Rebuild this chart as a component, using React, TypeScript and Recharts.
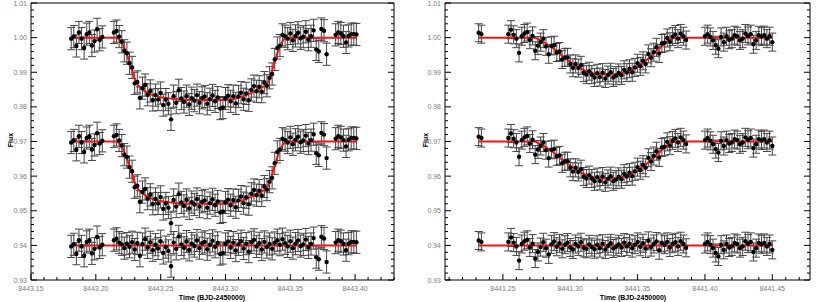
import React from 'react';
import { ComposedChart, Scatter, Line, XAxis, YAxis, ErrorBar } from 'recharts';

// Night 8443: observation times, transit model and residuals (ppt)
const timeA = [
  8443.181, 8443.183, 8443.185, 8443.187, 8443.189, 8443.191, 8443.193, 8443.195, 8443.197, 8443.199,
  8443.201, 8443.203, 8443.205,
  8443.214, 8443.216, 8443.218, 8443.220, 8443.222, 8443.224, 8443.226, 8443.228, 8443.230, 8443.232,
  8443.234, 8443.236, 8443.238, 8443.240, 8443.242, 8443.244, 8443.246, 8443.248, 8443.250, 8443.252,
  8443.254, 8443.256, 8443.258, 8443.260, 8443.262, 8443.264, 8443.266, 8443.268, 8443.270, 8443.272,
  8443.274, 8443.276, 8443.278, 8443.280, 8443.282, 8443.284, 8443.286, 8443.288, 8443.290, 8443.292,
  8443.294, 8443.296, 8443.298, 8443.300, 8443.302, 8443.304, 8443.306, 8443.308, 8443.310, 8443.312,
  8443.314, 8443.316, 8443.318, 8443.320, 8443.322, 8443.324, 8443.326, 8443.328, 8443.330, 8443.332,
  8443.334, 8443.336, 8443.338, 8443.340, 8443.342, 8443.344, 8443.346, 8443.348, 8443.350, 8443.352,
  8443.354, 8443.356, 8443.358, 8443.360, 8443.362, 8443.364, 8443.366, 8443.368, 8443.370, 8443.372,
  8443.374, 8443.376, 8443.378,
  8443.385, 8443.387, 8443.389, 8443.391, 8443.393, 8443.395, 8443.397, 8443.399, 8443.401,
];
const modelA = [
  1, 1, 1, 1, 1, 1, 1, 1, 1, 1,
  1, 1, 1,
  1, 1, 0.9995, 0.9985, 0.997, 0.995, 0.993, 0.9905, 0.988, 0.9866,
  0.9856, 0.985, 0.9845, 0.9841, 0.9837, 0.9834, 0.9832, 0.983, 0.9828, 0.9827,
  0.9826, 0.9825, 0.9824, 0.9823, 0.9822, 0.9822, 0.9821, 0.9821, 0.982, 0.982,
  0.982, 0.982, 0.982, 0.982, 0.982, 0.982, 0.982, 0.982, 0.982, 0.982,
  0.982, 0.982, 0.982, 0.982, 0.9821, 0.9822, 0.9823, 0.9825, 0.9827, 0.9829,
  0.9831, 0.9834, 0.9837, 0.984, 0.9844, 0.9848, 0.9852, 0.9856, 0.986, 0.9866,
  0.988, 0.9905, 0.993, 0.9955, 0.9975, 0.999, 0.9998, 1, 1, 1,
  1, 1, 1, 1, 1, 1, 1, 1, 1, 1,
  1, 1, 1,
  1, 1, 1, 1, 1, 1, 1, 1, 1,
];
const residA = [
  -0.3, 0.3, -2.4, 1.5, -0.3, -3.0, 1.0, 1.5, -2.3, -1.0,
  2.4, -0.6, 0.2,
  1.5, 1.9, 0.8, 0.3, -0.8, 0.5, -0.4, 0.9, -1.2, 0.6,
  -3.0, 0.4, 1.8, -0.6, 0.9, -1.4, 0.2, -0.9, 1.2, -2.2,
  -0.5, -1.6, -6.0, 0.8, -1.0, 2.6, 0.3, -0.7, 1.1, -1.3,
  0.5, -0.2, 1.4, -0.8, 0.6, 1.0, -1.1, 0.2, 1.3, -0.4,
  0.7, -2.5, -2.2, 0.4, 1.1, -0.6, 0.8, -1.5, 0.3, 1.2,
  -0.9, 0.5, -1.8, 0.9, 1.6, -0.3, 0.6, -1.2, 1.0, -0.5,
  0.4, -1.0, 0.7, 1.5, 0.2, 1.8, 0.6, -0.3, 1.2, -0.8,
  0.5, 1.4, -0.2, 0.3, 1.7, -0.6, 0.4, 2.1, -3.4, -4.0,
  2.5, 2.0, -4.8,
  0.8, 1.5, 1.2, 0.4, -1.4, 0.5, 1.0, 1.0, 0.9,
];

// Night 8441
const timeB = [
  8441.232, 8441.234,
  8441.254, 8441.256, 8441.258, 8441.260, 8441.262, 8441.264, 8441.266, 8441.268, 8441.270, 8441.272,
  8441.274, 8441.276, 8441.278, 8441.280, 8441.282, 8441.284, 8441.286, 8441.288, 8441.290, 8441.292,
  8441.294, 8441.296, 8441.298, 8441.300, 8441.302, 8441.304, 8441.306, 8441.308, 8441.310, 8441.312,
  8441.314, 8441.316, 8441.318, 8441.320, 8441.322, 8441.324, 8441.326, 8441.328, 8441.330, 8441.332,
  8441.334, 8441.336, 8441.338, 8441.340, 8441.342, 8441.344, 8441.346, 8441.348, 8441.350, 8441.352,
  8441.354, 8441.356, 8441.358, 8441.360, 8441.362, 8441.364, 8441.366, 8441.368, 8441.370, 8441.372,
  8441.374, 8441.376, 8441.378, 8441.380, 8441.382, 8441.384, 8441.386,
  8441.400, 8441.402, 8441.404, 8441.406, 8441.408, 8441.410, 8441.412, 8441.414, 8441.416, 8441.418,
  8441.420, 8441.422, 8441.424, 8441.426, 8441.428, 8441.430, 8441.432, 8441.434, 8441.436, 8441.438,
  8441.440, 8441.442, 8441.444, 8441.446, 8441.448, 8441.450,
];
const modelB = [
  1, 1,
  1, 1, 1, 1, 1, 1, 1, 1, 1, 1,
  1, 0.9996, 0.9992, 0.9988, 0.9983, 0.9978, 0.9973, 0.9967, 0.9961, 0.9954,
  0.9947, 0.9941, 0.9935, 0.993, 0.9925, 0.992, 0.9915, 0.9911, 0.9906, 0.9903,
  0.99, 0.9898, 0.9896, 0.9895, 0.9894, 0.9894, 0.9894, 0.9894, 0.9894, 0.9894,
  0.9894, 0.9895, 0.9897, 0.9899, 0.9902, 0.9905, 0.9908, 0.9912, 0.9916, 0.9921,
  0.9927, 0.9933, 0.994, 0.9947, 0.9954, 0.9961, 0.9968, 0.9976, 0.9983, 0.9989,
  0.9994, 0.9998, 1, 1, 1, 1, 1,
  1, 1, 1, 1, 1, 1, 1, 1, 1, 1,
  1, 1, 1, 1, 1, 1, 1, 1, 1, 1,
  1, 1, 1, 1, 1, 1,
];
const residB = [
  1.4, 1.0,
  1.0, 2.3, 0.8, -0.3, -4.4, 0.4, 1.2, 1.6, -0.6, 0.5,
  -3.8, -1.9, -0.5, 0.9, -0.8, -2.6, 0.3, 1.1, -0.4, 0.6,
  -1.0, 0.2, 0.8, -0.6, -1.2, 0.4, -0.3, 0.9, -0.7, -1.0,
  0.3, -0.5, -1.1, 0.2, -0.8, 0.5, -1.2, -0.2, 0.6, -0.9,
  -0.4, 0.3, -0.6, 0.8, -0.3, 0.5, -0.8, 0.2, 1.0, -0.4,
  0.6, -0.9, 1.3, -0.5, 0.4, 1.1, -1.4, 0.7, 0.2, 1.0,
  -0.6, 0.5, 0.9, -0.3, 1.2, 0.4, -0.7,
  0.4, 1.0, 0.2, -0.8, -2.2, -3.2, 0.2, -1.3, 0.4, -0.6,
  -0.3, 0.7, 0.4, -0.8, -0.3, 1.2, 0.5, 1.0, -1.9, -0.8,
  0.7, 0.3, 0.7, -0.3, 0.4, -1.3,
];

const yTicks = [
  0.93, 0.932, 0.934, 0.936, 0.938, 0.94, 0.942, 0.944, 0.946, 0.948,
  0.95, 0.952, 0.954, 0.956, 0.958, 0.96, 0.962, 0.964, 0.966, 0.968,
  0.97, 0.972, 0.974, 0.976, 0.978, 0.98, 0.982, 0.984, 0.986, 0.988,
  0.99, 0.992, 0.994, 0.996, 0.998, 1.0, 1.002, 1.004, 1.006, 1.008, 1.01,
];
const xTicksA = [
  8443.15, 8443.16, 8443.17, 8443.18, 8443.19, 8443.2, 8443.21, 8443.22, 8443.23, 8443.24,
  8443.25, 8443.26, 8443.27, 8443.28, 8443.29, 8443.3, 8443.31, 8443.32, 8443.33, 8443.34,
  8443.35, 8443.36, 8443.37, 8443.38, 8443.39, 8443.4, 8443.41, 8443.42, 8443.43,
];
const xTicksB = [
  8441.21, 8441.22, 8441.23, 8441.24, 8441.25, 8441.26, 8441.27, 8441.28, 8441.29, 8441.3,
  8441.31, 8441.32, 8441.33, 8441.34, 8441.35, 8441.36, 8441.37, 8441.38, 8441.39, 8441.4,
  8441.41, 8441.42, 8441.43, 8441.44, 8441.45, 8441.46, 8441.47,
];

const MID_OFFSET = 0.03;
const RESID_LEVEL = 0.94;

const GRAY = '#7d7d7d';
const FONT = '"Liberation Sans", Arial, sans-serif';

const isMajor = (v: number, per: number) => Math.abs(v * per - Math.round(v * per)) < 1e-4;

const BottomTick = ({ x, y, payload }: any) => {
  const major = isMajor(payload.value, 20);
  return (
    <g>
      <line x1={x} y1={y} x2={x} y2={y - (major ? 6 : 3)} stroke="#000" />
      {major && (
        <text x={x} y={y + 10.5} textAnchor="middle" fill={GRAY} fontSize={7} fontFamily={FONT}>
          {payload.value.toFixed(2)}
        </text>
      )}
    </g>
  );
};
const TopTick = ({ x, y, payload }: any) => (
  <line x1={x} y1={y} x2={x} y2={y + (isMajor(payload.value, 20) ? 6 : 3)} stroke="#000" />
);
const LeftTick = ({ x, y, payload }: any) => {
  const major = isMajor(payload.value, 100);
  return (
    <g>
      <line x1={x} y1={y} x2={x + (major ? 6 : 3)} y2={y} stroke="#000" />
      {major && (
        <text x={x - 4} y={y + 2.5} textAnchor="end" fill={GRAY} fontSize={7} fontFamily={FONT}>
          {payload.value.toFixed(2)}
        </text>
      )}
    </g>
  );
};
const RightTick = ({ x, y, payload }: any) => (
  <line x1={x} y1={y} x2={x - (isMajor(payload.value, 100) ? 6 : 3)} y2={y} stroke="#000" />
);

const Dot = (p: any) => <circle cx={p.cx} cy={p.cy} r={2.2} fill="#000" />;

function buildRows(time: number[], model: number[], resid: number[], err: number) {
  const top = time.map((t, i) => ({ t, y: model[i] + resid[i] / 1000, e: err }));
  const mid = time.map((t, i) => ({ t, y: model[i] + resid[i] / 1000 - MID_OFFSET, e: err }));
  const res = time.map((t, i) => ({ t, y: RESID_LEVEL + resid[i] / 1000, e: err }));
  const mTop = time.map((t, i) => ({ t, y: model[i] }));
  const mMid = time.map((t, i) => ({ t, y: model[i] - MID_OFFSET }));
  const mRes = time.map((t) => ({ t, y: RESID_LEVEL }));
  return { top, mid, res, mTop, mMid, mRes };
}

const Panel = ({ time, model, resid, err, domain, xTicks, margin }: any) => {
  const r = buildRows(time, model, resid, err);
  return (
    <ComposedChart width={400} height={302} margin={margin}>
      <XAxis type="number" dataKey="t" domain={domain} allowDataOverflow ticks={xTicks} interval={0}
        height={1} tickSize={0} tickMargin={0} tickLine={false} tick={<BottomTick />} axisLine={{ stroke: '#000' }} />
      <XAxis xAxisId="top" orientation="top" type="number" domain={domain} allowDataOverflow ticks={xTicks} interval={0}
        height={1} tickSize={0} tickMargin={0} tickLine={false} tick={<TopTick />} axisLine={{ stroke: '#000' }} />
      <YAxis type="number" domain={[0.93, 1.01]} allowDataOverflow ticks={yTicks} interval={0}
        width={1} tickSize={0} tickMargin={0} tickLine={false} tick={<LeftTick />} axisLine={{ stroke: '#000' }} />
      <YAxis yAxisId="right" orientation="right" type="number" domain={[0.93, 1.01]} allowDataOverflow ticks={yTicks} interval={0}
        width={1} tickSize={0} tickMargin={0} tickLine={false} tick={<RightTick />} axisLine={{ stroke: '#000' }} />
      {[r.top, r.mid, r.res].map((d, i) => (
        <Scatter key={'s' + i} data={d} dataKey="y" shape={<Dot />} isAnimationActive={false}>
          <ErrorBar dataKey="e" direction="y" width={4} stroke="#444" strokeWidth={1} />
        </Scatter>
      ))}
      {[r.mTop, r.mMid, r.mRes].map((d, i) => (
        <Line key={'l' + i} data={d} dataKey="y" stroke="#f01616" strokeWidth={2} dot={false}
          isAnimationActive={false} />
      ))}
    </ComposedChart>
  );
};

const titleStyle: React.CSSProperties = {
  position: 'absolute', fontFamily: FONT, fontWeight: 'bold', fontSize: 7, color: '#000', whiteSpace: 'nowrap',
};

export default function App() {
  return (
    <div style={{ position: 'absolute', left: 0, top: 0, width: 830, height: 302, background: '#fff' }}>
      <div style={{ position: 'absolute', left: 0, top: 0 }}>
        <Panel time={timeA} model={modelA} resid={residA} err={0.0032} domain={[8443.15, 8443.43]}
          xTicks={xTicksA} margin={{ top: 2, right: 5, bottom: 21, left: 30 }} />
      </div>
      <div style={{ position: 'absolute', left: 414, top: 0 }}>
        <Panel time={timeB} model={modelB} resid={residB} err={0.0026} domain={[8441.207, 8441.478]}
          xTicks={xTicksB} margin={{ top: 2, right: 3, bottom: 21, left: 30 }} />
      </div>
      <div style={{ ...titleStyle, left: 10, top: 140, transform: 'translate(-50%, -50%) rotate(-90deg)' }}>Flux</div>
      <div style={{ ...titleStyle, left: 425, top: 140, transform: 'translate(-50%, -50%) rotate(-90deg)' }}>Flux</div>
      <div style={{ ...titleStyle, left: 212, top: 297, transform: 'translate(-50%, -50%)' }}>Time (BJD-2450000)</div>
      <div style={{ ...titleStyle, left: 633, top: 297, transform: 'translate(-50%, -50%)' }}>Time (BJD-2450000)</div>
    </div>
  );
}
